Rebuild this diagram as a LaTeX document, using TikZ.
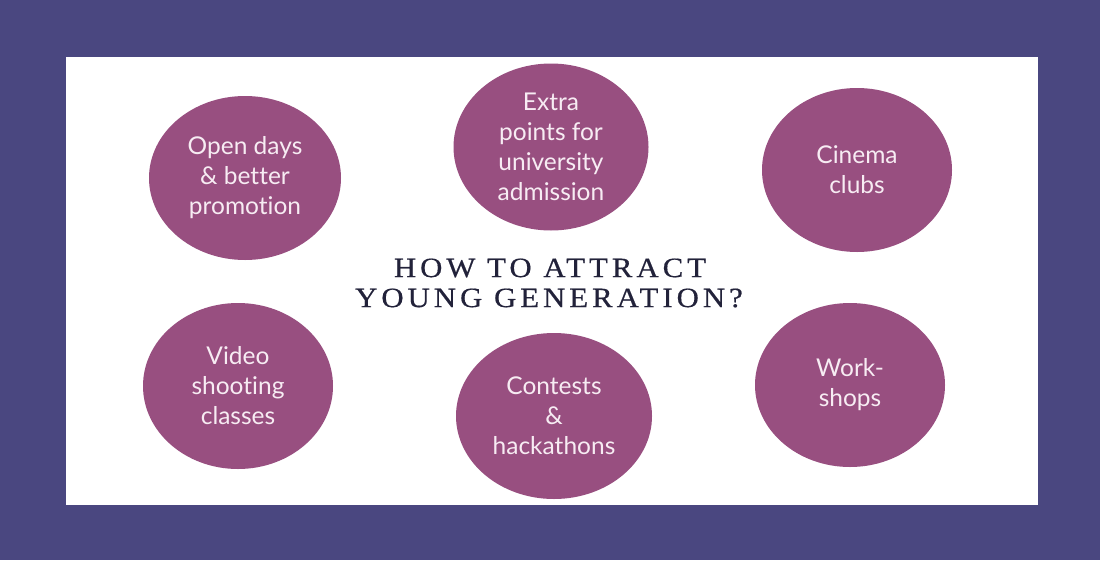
\documentclass[tikz,border=0pt]{standalone}
\usepackage{graphicx}
\usepackage{fontspec}
\setmainfont{Lato}[Ligatures={NoCommon}]
\newfontfamily\headfont[LetterSpace=13,FakeBold=0.5]{Liberation Serif}
\usetikzlibrary{shapes.geometric}
\definecolor{frame}{HTML}{4A4780}
\definecolor{bubble}{HTML}{984F80}
\definecolor{bubbletext}{HTML}{F7ECF3}
\definecolor{headcol}{HTML}{22223A}
\tikzset{
  bubblenode/.style={ellipse, fill=bubble, draw=none, inner sep=0pt,
    text=bubbletext, align=center, font=\fontsize{24.5}{30}\selectfont},
  headnode/.style={text=headcol, align=center, inner sep=0pt,
    font=\headfont\fontsize{28}{30}\selectfont},
}
\begin{document}
\begin{tikzpicture}[x=1pt,y=-1pt]
\fill[frame] (0,0) rectangle (1100,560);
\useasboundingbox (0,0) rectangle (1100,560);
\fill[white] (66,57) rectangle (1038,505);
\node[bubblenode, minimum width=192pt, minimum height=164pt] (open) at (245,178) {Open days\\\& better\\promotion};
\node[bubblenode, minimum width=195pt, minimum height=167pt] (extra) at (551,147) {Extra\\points for\\university\\admission};
\node[bubblenode, minimum width=190pt, minimum height=164pt] (cinema) at (857,170) {Cinema\\clubs};
\node[bubblenode, minimum width=190pt, minimum height=166pt] (video) at (238,386) {Video\\shooting\\classes};
\node[bubblenode, minimum width=196pt, minimum height=166pt] (contests) at (554,416) {Contests\\\&\\hackathons};
\node[bubblenode, minimum width=190pt, minimum height=164pt] (work) at (850,385) {Work-\\shops};
\node[headnode] (title1) at (550,268) {\scalebox{1.1}[1]{HOW TO ATTRACT}};
\node[headnode] (title2) at (549,298) {\scalebox{1.1}[1]{YOUNG GENERATION?}};
\end{tikzpicture}
\end{document}
